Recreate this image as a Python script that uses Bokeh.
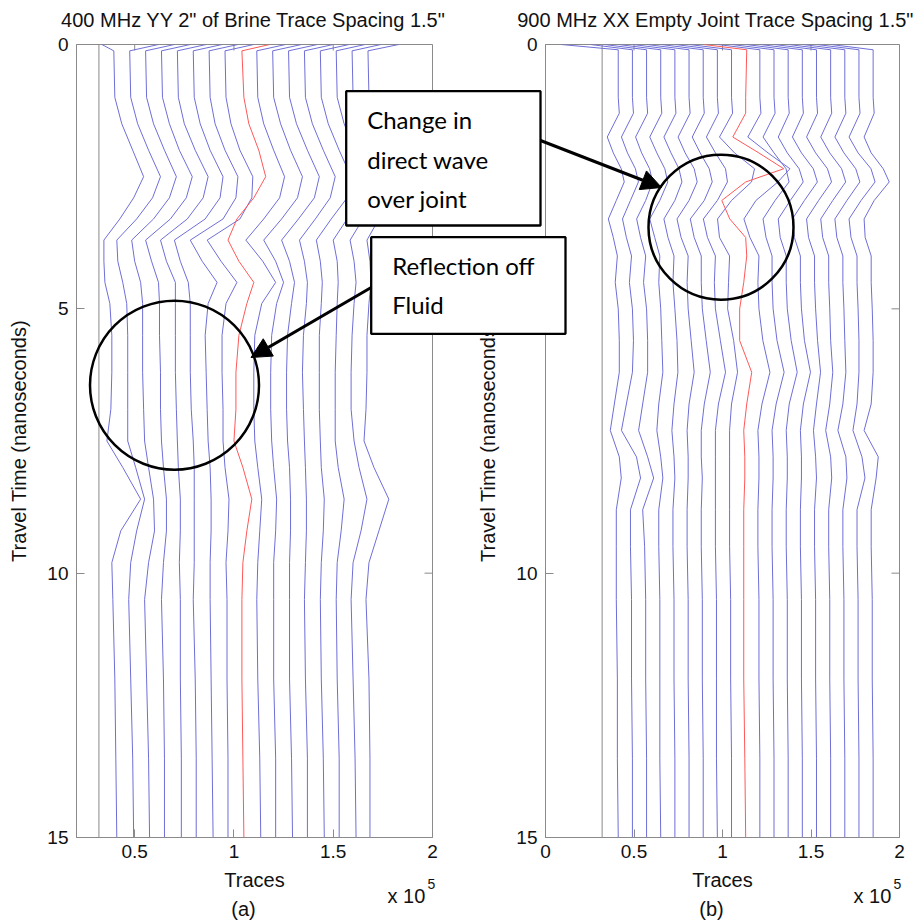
from bokeh.plotting import figure
from bokeh.models import (Range1d, FixedTicker, CustomJSTickFormatter,
                          Label, Arrow, NormalHead)
from bokeh.layouts import row
from bokeh.embed import file_html
from bokeh.resources import INLINE
from bokeh.core.properties import value

# ---------------- data : panel (a) ----------------
TITLE_A = '400 MHz YY 2" of Brine Trace Spacing 1.5"'
TIME_A = [0, 0.12, 1.0, 1.5, 2.0, 2.5, 2.9, 3.3, 3.7, 4.1, 4.5, 4.9, 5.5, 6.2,
          6.9, 7.5, 8.0, 8.6, 9.2, 9.8, 10.5, 12.0, 13.5, 15.0]
REF_POS_A = 0.32
TRACE_POS_A = [0.40, 0.48, 0.56, 0.64, 0.72, 0.80, 0.88, 0.96, 1.04, 1.12,
               1.20, 1.28, 1.36, 1.44, 1.52, 1.60, 1.68]
RED_A = 1.04
# amplitudes in thousandths of (x 10^5) trace units
AMP_A = [
    [-65, -5, 0, 35, 90, 145, 95, 25, -55, -55, -50, -25, -15, -15, -20, -40, 40, 130, 30, -15, -10, 0, 5, 10],
    [140, -5, 0, 35, 90, 150, 110, 30, -70, -65, -40, -20, -15, -15, -15, -15, 25, 70, 30, 0, -10, 0, 10, 15],
    [140, -5, 0, 35, 90, 150, 115, 35, -75, -60, -30, -20, -20, -20, -15, -10, 10, 35, 40, 10, -10, 0, 10, 15],
    [140, -5, 0, 35, 85, 150, 120, 40, -85, -55, -20, -15, -15, -10, -10, -5, 5, 20, 20, 5, -5, 5, 10, 10],
    [140, -5, 0, 30, 85, 150, 125, 45, -90, -60, -15, -15, -15, -15, -10, -5, 0, 10, 10, 5, 10, 10, 15, 15],
    [140, -5, 0, 30, 80, 145, 130, 55, -100, -70, -30, -20, -20, -20, -15, -5, 0, 0, 0, 0, -5, 5, 10, 10],
    [140, -5, 0, 25, 75, 140, 130, 65, -100, -40, 35, -10, -25, -20, -15, -10, 0, 5, 5, 0, 0, 5, 10, 15],
    [140, -5, 0, 25, 70, 135, 130, 70, -95, -25, 55, 0, -20, -20, -15, -15, -5, 15, 10, 0, 5, 5, 10, 10],
    [140, 0, 10, 35, 85, 120, 60, -25, -70, -15, 60, 25, -15, -30, -30, -40, 5, 50, 25, 5, 0, 0, 5, 10],
    [140, -5, 0, 30, 80, 135, 110, 30, -60, 25, 90, 20, -15, -20, -20, -15, 0, 20, 10, 0, -5, 0, 10, 15],
    [140, -5, 0, 35, 85, 145, 120, 40, -50, 10, 50, 15, -10, -15, -15, -10, 0, 15, 10, 0, 0, 0, 10, 10],
    [140, -5, 0, 35, 90, 150, 125, 45, -40, 0, 25, 10, -10, -15, -15, -10, 0, 5, 5, 0, 0, 0, 10, 15],
    [140, -5, 0, 35, 90, 150, 125, 50, -30, -5, 10, 5, -10, -15, -10, -5, 0, 5, 5, 0, -5, 0, 10, 10],
    [140, -5, 0, 35, 90, 150, 130, 50, -25, -5, 5, 0, -10, -10, -10, -5, 0, 15, 10, 0, -5, 0, 10, 15],
    [140, -5, 0, 35, 90, 150, 130, 50, -20, 0, 5, 0, -5, -10, -10, -10, 5, 35, 20, 0, -5, 0, 10, 10],
    [140, -5, 0, 35, 90, 150, 130, 50, -15, 5, 15, 5, -5, -10, -10, 5, 30, 70, 40, 0, -10, 0, 10, 15],
    [150, -5, 0, 35, 90, 150, 130, 50, -10, 5, 10, 0, -10, -10, -15, -25, 25, 100, 50, 0, -15, 0, 5, 5],
]

# ---------------- data : panel (b) ----------------
TITLE_B = '900 MHz XX Empty Joint Trace Spacing 1.5"'
TIME_B = [0, 0.1, 1.0, 1.3, 1.75, 2.05, 2.35, 2.6, 2.95, 3.3, 3.65, 4.0, 4.5, 5.0,
          5.6, 6.2, 6.8, 7.3, 7.8, 8.2, 8.8, 9.5, 10.5, 12.0, 13.5, 15.0]
REF_POS_B = 0.32
TRACE_POS_B = [0.40, 0.48, 0.56, 0.64, 0.72, 0.80, 0.88, 0.96, 1.04, 1.12,
               1.20, 1.28, 1.36, 1.44, 1.52, 1.60, 1.68, 1.76, 1.84]
RED_B = 1.12
AMP_B = [
    [-311, 11, 11, 17, -51, -17, 28, 45, 0, -45, -17, 6, -6, 11, 17, 17, -11, -34, 17, 28, 0, 0, 0, 6, 6, 11],
    [-226, 11, 11, 17, -51, -17, 28, 45, 0, -45, -23, 6, -6, 11, 17, 11, -23, -51, 34, 57, 0, 0, 6, 6, 11, 11],
    [-226, 11, 11, 17, -51, -17, 28, 45, 6, -45, -23, 6, -6, 11, 17, 17, -11, -34, 17, 51, -11, 0, 6, 6, 11, 11],
    [-226, 11, 11, 17, -51, -11, 34, 51, 6, -51, -23, 6, 0, 11, 17, 23, 0, -11, 11, 23, 0, 0, 6, 6, 6, 11],
    [-226, 11, 11, 17, -51, -11, 34, 51, 11, -51, -28, 6, 0, 11, 23, 28, 6, -6, 6, 11, 0, 0, 6, 6, 11, 11],
    [-226, 11, 11, 17, -51, -11, 40, 57, 11, -57, -34, 6, 0, 6, 23, 40, 11, 0, 6, 6, 0, 0, 6, 6, 11, 11],
    [-226, 11, 11, 17, -51, -6, 45, 62, 17, -62, -40, 0, 0, 6, 28, 51, 17, 0, 0, 6, 0, 0, 6, 6, 11, 11],
    [-226, 11, 11, 17, -51, 0, 57, 68, 11, -68, -45, 0, -6, 0, 28, 57, 17, 0, 0, 0, 0, 0, 6, 6, 6, 11],
    [-226, 11, 11, 17, -57, 28, 141, 124, 11, -68, -57, 0, -6, -11, 23, 45, 11, 0, 0, 0, 0, 0, 6, 6, 11, 11],
    [-226, 17, 11, 11, -62, 85, 226, 11, -124, -79, 11, 17, 0, -23, -23, 45, 17, 0, 6, 6, 0, 0, 0, 0, 6, 11],
    [-226, 11, 11, 17, -57, 57, 181, 113, -11, -79, -45, 6, 0, 6, 28, 68, 23, 0, 6, 6, 0, 0, 6, 6, 11, 11],
    [-226, 11, 11, 17, -51, 11, 79, 96, 17, -51, -34, 0, 0, 6, 28, 68, 23, 0, 6, 6, 0, 0, 6, 6, 11, 11],
    [-226, 11, 11, 17, -45, 6, 73, 96, 23, -45, -34, 0, 0, 6, 28, 62, 17, 0, 6, 6, 0, 0, 6, 6, 11, 11],
    [-226, 11, 11, 17, -45, 6, 73, 96, 23, -45, -34, 0, 0, 6, 23, 57, 17, 0, 6, 6, 0, 0, 6, 6, 11, 11],
    [-226, 11, 11, 17, -45, 6, 73, 96, 23, -45, -34, 0, 0, 6, 17, 34, 11, -6, 6, 11, 0, 0, 6, 6, 11, 11],
    [-226, 11, 11, 17, -45, 6, 73, 96, 23, -45, -34, 0, 0, 6, 11, 23, 6, -17, 11, 17, 0, 0, 6, 6, 11, 11],
    [-226, 11, 11, 17, -45, 6, 73, 96, 23, -45, -34, 0, 0, 6, 11, 17, 0, -28, 17, 23, 0, 0, 6, 6, 11, 11],
    [-226, 11, 11, 17, -45, 6, 79, 102, 23, -45, -34, 0, 0, 6, 11, 11, 0, -23, 28, 45, 0, 0, 6, 6, 11, 11],
    [-226, 11, 11, 17, -40, 0, 68, 102, 17, -40, -34, 0, 0, 6, 11, 11, 0, -40, 40, 28, 0, 0, 6, 6, 11, 11],
]

X_TICKS_A = [0.5, 1, 1.5, 2]
X_TICKS_B = [0, 0.5, 1, 1.5, 2]
Y_TICKS = [0, 5, 10, 15]

# ---------------- styling ----------------
BLUE = "#6e6ed8"
RED = "#ff5858"
GREY = "#8a8a8a"
AX_FONT = "Liberation Sans"
NOTE_FONT = "Lato"


def make_panel(width, x_start, x_end, xticks, b_left, b_right):
    p = figure(width=width, height=922, x_range=Range1d(x_start, x_end),
               y_range=Range1d(15, 0), output_backend="svg", toolbar_location=None,
               min_border_left=b_left, min_border_right=b_right,
               min_border_top=44, min_border_bottom=85,
               background_fill_color="white", border_fill_color=None,
               outline_line_color=GREY)
    p.grid.visible = False
    fmt = CustomJSTickFormatter(code="return tick.toString();")
    for ax in p.xaxis:
        ax.ticker = FixedTicker(ticks=xticks)
        ax.formatter = fmt
        ax.axis_label = "Traces"
        ax.major_label_standoff = 7
        ax.axis_label_standoff = 8
    for ax in p.yaxis:
        ax.ticker = FixedTicker(ticks=Y_TICKS)
        ax.axis_label = "Travel Time (nanoseconds)"
        ax.major_label_standoff = 8
        ax.axis_label_standoff = 14
    for ax in list(p.xaxis) + list(p.yaxis):
        ax.axis_line_color = GREY
        ax.major_tick_line_color = GREY
        ax.major_tick_in = 8
        ax.major_tick_out = 0
        ax.minor_tick_line_color = None
        ax.major_label_text_font = AX_FONT
        ax.major_label_text_font_size = "19px"
        ax.major_label_text_color = "#111111"
        ax.axis_label_text_font = AX_FONT
        ax.axis_label_text_font_size = "20px"
        ax.axis_label_text_font_style = "normal"
        ax.axis_label_text_color = "#111111"
    # mirrored tick marks on the top and right edges of the box
    top_len = 6 / 52.9
    right_len = 8 / ((width - b_left - b_right) / (x_end - x_start))
    p.segment(x0=xticks, y0=[0] * len(xticks), x1=xticks, y1=[top_len] * len(xticks),
              line_color=GREY, line_width=1)
    inner = Y_TICKS[1:-1]
    p.segment(x0=[x_end] * len(inner), y0=inner, x1=[x_end - right_len] * len(inner),
              y1=inner, line_color=GREY, line_width=1)
    return p


def draw_traces(p, times, ref_pos, positions, amps, red_pos):
    p.line([ref_pos, ref_pos], [times[0], times[-1]], line_color=GREY, line_width=1)
    for pos, amp in zip(positions, amps):
        xs = [pos + a / 1000.0 for a in amp]
        col = RED if abs(pos - red_pos) < 1e-9 else BLUE
        p.line(xs, times, line_color=col, line_width=1)


pa = make_panel(470, 0.207, 2.0, X_TICKS_A, 76, 38)
draw_traces(pa, TIME_A, REF_POS_A, TRACE_POS_A, AMP_A, RED_A)

pb = make_panel(443, 0.0, 2.0, X_TICKS_B, 75, 14)
draw_traces(pb, TIME_B, REF_POS_B, TRACE_POS_B, AMP_B, RED_B)

# ---------------- overlay with titles and annotations (page pixels) ----------------
ov = figure(width=913, height=922, x_range=Range1d(0, 913), y_range=Range1d(922, 0),
            output_backend="svg", toolbar_location=None, min_border=0,
            x_axis_location=None, y_axis_location=None,
            background_fill_color=None, border_fill_color=None, outline_line_color=None)
ov.grid.visible = False
if "frame_align" in ov.properties():
    ov.frame_align = False
else:
    ov.min_border_top = 44
    ov.min_border_bottom = 85
    ov.y_range = Range1d(837, 44)

TITLES = [(TITLE_A, 253, 19), (TITLE_B, 715, 19)]
for txt, x, y in TITLES:
    ov.add_layout(Label(x=x, y=y, text=txt, text_align="center", text_baseline="alphabetic",
                        text_font=AX_FONT, text_font_size="20px", text_color="#111111"))

SUBS = [("(a)", 243, 908), ("(b)", 711, 908)]
for txt, x, y in SUBS:
    ov.add_layout(Label(x=x, y=y, text=txt, text_align="center", text_baseline="alphabetic",
                        text_font=AX_FONT, text_font_size="20px", text_color="#111111"))

EXPS = [(387, 427), (853, 893)]
for x1, x2 in EXPS:
    ov.add_layout(Label(x=x1, y=895, text="x 10", text_align="left", text_baseline="alphabetic",
                        text_font=AX_FONT, text_font_size="20px", text_color="#111111"))
    ov.add_layout(Label(x=x2, y=883, text="5", text_align="left", text_baseline="alphabetic",
                        text_font=AX_FONT, text_font_size="14px", text_color="#111111"))

# circles
ov.circle(x=[174, 720.5], y=[384.7, 226.7], radius=[84.5, 72.5],
          fill_color=None, line_color="black", line_width=2.5)

# note boxes
BOX_L = [345.7, 370.7]
BOX_R = [540, 565]
BOX_T = [90.7, 236.7]
BOX_B = [225, 333.3]
ov.quad(left=BOX_L, right=BOX_R, top=BOX_T, bottom=BOX_B, fill_color="white",
        line_color="black", line_width=2.3)

NOTE_LINES = [("Change in", 366.7, 118.7), ("direct wave", 366.7, 158.7),
              ("over joint", 366.7, 197.5), ("Reflection  off", 391.7, 265.3),
              ("Fluid", 391.7, 303.7)]
ov.text(x=[n[1] for n in NOTE_LINES], y=[n[2] for n in NOTE_LINES],
        text=[n[0] for n in NOTE_LINES], text_font=value(NOTE_FONT),
        text_font_size="24px", text_color="black", text_baseline="alphabetic")

ARROWS = [(540, 140, 661, 187), (370.7, 287, 250.5, 357)]
for x0, y0, x1, y1 in ARROWS:
    ov.add_layout(Arrow(end=NormalHead(size=20, fill_color="black", line_color="black"),
                        x_start=x0, y_start=y0, x_end=x1, y_end=y1,
                        line_color="black", line_width=3))

ov.margin = (0, 0, 0, -913)
layout = row(pa, pb, ov)

open("out.html", "w").write(file_html(layout, INLINE))
